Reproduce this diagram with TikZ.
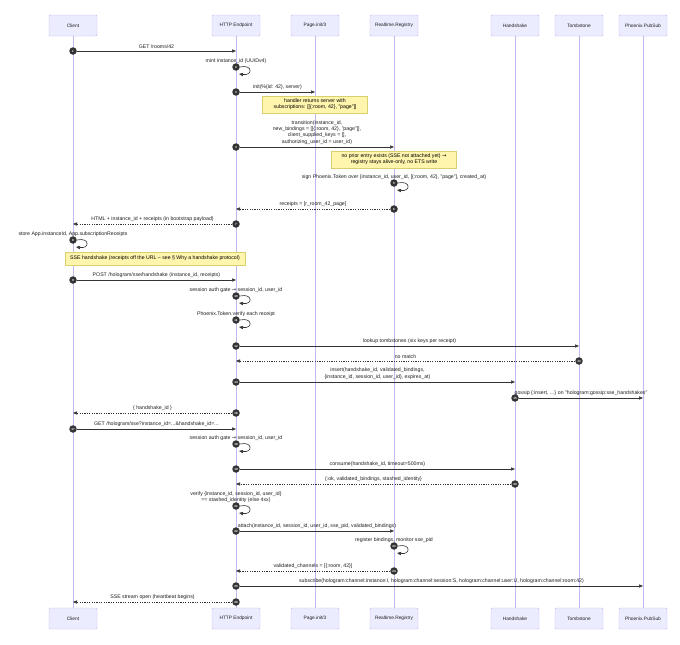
\documentclass[tikz,border=0pt]{standalone}
\usepackage{fontspec}
\setmainfont{Liberation Sans}
\newfontfamily\symfont{DejaVu Sans}
\usetikzlibrary{arrows.meta}
\definecolor{actfill}{HTML}{ECECFF}
\definecolor{actline}{HTML}{C4B6EE}
\definecolor{notefill}{HTML}{FFF5AD}
\definecolor{noteline}{HTML}{D8CF6E}
\definecolor{ink}{HTML}{333333}
\definecolor{txt}{HTML}{1E1E1E}
\newcommand\rarr{{\symfont\char"2192}}
\tikzset{
  actor/.style={draw=actline, fill=actfill, rounded corners=1pt, minimum width=48pt,
    minimum height=21pt, text=txt, font=\fontsize{4.8}{5.8}\selectfont},
  life/.style={actline, line width=0.9pt},
  msg/.style={ink, line width=0.6pt, -{Triangle[length=4pt,width=3.2pt]}},
  reply/.style={msg, dash pattern=on 1.2pt off 1.2pt},
  num/.style={circle, fill=ink, inner sep=0pt, minimum size=7.5pt, text=white,
    font=\fontsize{3}{3}\selectfont\bfseries},
  lbl/.style={text=txt, align=center, inner sep=1pt, font=\fontsize{5.2}{6.2}\selectfont},
  note/.style={lbl, text=black, draw=noteline, fill=notefill, line width=0.5pt}
}
\begin{document}
\begin{tikzpicture}[x=1pt,y=-1pt]
    \def\xC{73}     %Client
    \def\xH{236}    %HTTP Endpoint
    \def\xP{315}    %Page.init/3
    \def\xR{394}    %Realtime.Registry
    \def\xS{515}    %Handshake
    \def\xT{579}    %Tombstone
    \def\xB{643}    %Phoenix.PubSub
    \useasboundingbox (0,0) rectangle (680,645);
    % actors and lifelines
    \foreach \n/\x/\t in {C/\xC/Client, H/\xH/HTTP Endpoint, P/\xP/{Page.init/3},
        R/\xR/Realtime.Registry, S/\xS/Handshake, T/\xT/Tombstone, B/\xB/Phoenix.PubSub} {
        \node[actor] (top\n) at (\x,25.5) {\t};
        \node[actor] (bot\n) at (\x,618.5) {\t};
        \draw[life] (top\n) -- (bot\n);
    }
    % 1
    \node[num] (m1) at (\xC,51) {1};
    \coordinate (e1) at (\xH,51);
    \draw[msg] (m1) -- (e1) node[lbl,midway,above=1.5pt] {GET /rooms/42};
    % 2
    \node[num] (m2) at (\xH,67) {2};
    \coordinate (e2) at (\xH+3,74);
    \draw[msg] (m2.east) .. controls (\xH+17,64) and (\xH+17,76) .. (e2);
    \node[lbl] (l2) at (\xH,61) {mint instance\_id (UUIDv4)};
    % 3
    \node[num] (m3) at (\xH,92) {3};
    \coordinate (e3) at (\xP,92);
    \draw[msg] (m3) -- (e3) node[lbl,midway,above=1.5pt] {init(\%\{id: 42\}, server)};
    \node[note, minimum width=105pt, minimum height=17pt] (n1) at (\xP,104.5)
        {handler returns server with\\subscriptions: [[\{:room, 42\}, "page"]]};
    % 4
    \node[num] (m4) at (\xH,147) {4};
    \coordinate (e4) at (\xR,147);
    \draw[msg] (m4) -- (e4) node[lbl,midway,above=1.5pt] {transition(instance\_id,\\new\_bindings = [[\{:room, 42\}, "page"]],\\client\_supplied\_keys = [],\\authorizing\_user\_id = user\_id)};
    \node[note, minimum width=125pt, minimum height=17pt] (n2) at (\xR,159.5)
        {no prior entry exists (SSE not attached yet) \rarr\\registry stays alive-only, no ETS write};
    % 5
    \node[num] (m5) at (\xR,183) {5};
    \coordinate (e5) at (\xR+3,190);
    \draw[msg] (m5.east) .. controls (\xR+17,180) and (\xR+17,192) .. (e5);
    \node[lbl] (l5) at (\xR,177) {sign Phoenix.Token over \{instance\_id, user\_id, [\{:room, 42\}, "page"], created\_at\}};
    % 6
    \node[num] (m6) at (\xR,209) {6};
    \coordinate (e6) at (\xH,209);
    \draw[reply] (m6) -- (e6) node[lbl,midway,above=1.5pt] {receipts = [r\_room\_42\_page]};
    % 7
    \node[num] (m7) at (\xH,224) {7};
    \coordinate (e7) at (\xC,224);
    \draw[reply] (m7) -- (e7) node[lbl,midway,above=1.5pt] {HTML + instance\_id + receipts (in bootstrap payload)};
    % 8
    \node[num] (m8) at (\xC,240) {8};
    \coordinate (e8) at (\xC+3,247);
    \draw[msg] (m8.east) .. controls (\xC+17,237) and (\xC+17,249) .. (e8);
    \node[lbl] (l8) at (\xC,234) {store App.instanceId, App.subscriptionReceipts};
    \node[note, minimum width=180pt, minimum height=13pt] (n3) at (155,258.5)
        {SSE handshake (receipts off the URL – see § Why a handshake protocol)};
    % 9
    \node[num] (m9) at (\xC,280) {9};
    \coordinate (e9) at (\xH,280);
    \draw[msg] (m9) -- (e9) node[lbl,midway,above=1.5pt] {POST /hologram/sse/handshake (instance\_id, receipts)};
    % 10
    \node[num] (m10) at (\xH,296) {10};
    \coordinate (e10) at (\xH+3,303);
    \draw[msg] (m10.east) .. controls (\xH+17,293) and (\xH+17,305) .. (e10);
    \node[lbl] (l10) at (\xH,290) {session auth gate \rarr\ session\_id, user\_id};
    % 11
    \node[num] (m11) at (\xH,320) {11};
    \coordinate (e11) at (\xH+3,327);
    \draw[msg] (m11.east) .. controls (\xH+17,317) and (\xH+17,329) .. (e11);
    \node[lbl] (l11) at (\xH,314) {Phoenix.Token.verify each receipt};
    % 12
    \node[num] (m12) at (\xH,346) {12};
    \coordinate (e12) at (\xT,346);
    \draw[msg] (m12) -- (e12) node[lbl,midway,above=1.5pt] {lookup tombstones (six keys per receipt)};
    % 13
    \node[num] (m13) at (\xT,361) {13};
    \coordinate (e13) at (\xH,361);
    \draw[reply] (m13) -- (e13) node[lbl,midway,above=1.5pt] {no match};
    % 14
    \node[num] (m14) at (\xH,382) {14};
    \coordinate (e14) at (\xS,382);
    \draw[msg] (m14) -- (e14) node[lbl,midway,above=1.5pt] {insert(handshake\_id, validated\_bindings,\\\{instance\_id, session\_id, user\_id\}, expires\_at)};
    % 15
    \node[num] (m15) at (\xS,398) {15};
    \coordinate (e15) at (\xB,398);
    \draw[msg] (m15) -- (e15) node[lbl,midway,above=1.5pt] {gossip \{:insert, ...\} on "hologram:gossip:sse\_handshakes"};
    % 16
    \node[num] (m16) at (\xH,413) {16};
    \coordinate (e16) at (\xC,413);
    \draw[reply] (m16) -- (e16) node[lbl,midway,above=1.5pt] {\{ handshake\_id \}};
    % 17
    \node[num] (m17) at (\xC,429) {17};
    \coordinate (e17) at (\xH,429);
    \draw[msg] (m17) -- (e17) node[lbl,midway,above=1.5pt] {GET /hologram/sse?instance\_id=...\&handshake\_id=...};
    % 18
    \node[num] (m18) at (\xH,444) {18};
    \coordinate (e18) at (\xH+3,451);
    \draw[msg] (m18.east) .. controls (\xH+17,441) and (\xH+17,453) .. (e18);
    \node[lbl] (l18) at (\xH,438) {session auth gate \rarr\ session\_id, user\_id};
    % 19
    \node[num] (m19) at (\xH,469) {19};
    \coordinate (e19) at (\xS,469);
    \draw[msg] (m19) -- (e19) node[lbl,midway,above=1.5pt] {consume(handshake\_id, timeout=500ms)};
    % 20
    \node[num] (m20) at (\xS,484) {20};
    \coordinate (e20) at (\xH,484);
    \draw[reply] (m20) -- (e20) node[lbl,midway,above=1.5pt] {\{:ok, validated\_bindings, stashed\_identity\}};
    % 21
    \node[num] (m21) at (\xH,506) {21};
    \coordinate (e21) at (\xH+3,513);
    \draw[msg] (m21.east) .. controls (\xH+17,503) and (\xH+17,515) .. (e21);
    \node[lbl] (l21) at (\xH,497) {verify \{instance\_id, session\_id, user\_id\}\\== stashed\_identity (else 4xx)};
    % 22
    \node[num] (m22) at (\xH,531) {22};
    \coordinate (e22) at (\xR,531);
    \draw[msg] (m22) -- (e22) node[lbl,midway,above=1.5pt] {attach(instance\_id, session\_id, user\_id, sse\_pid, validated\_bindings)};
    % 23
    \node[num] (m23) at (\xR,546) {23};
    \coordinate (e23) at (\xR+3,553);
    \draw[msg] (m23.east) .. controls (\xR+17,543) and (\xR+17,555) .. (e23);
    \node[lbl] (l23) at (\xR,540) {register bindings, monitor sse\_pid};
    % 24
    \node[num] (m24) at (\xR,571) {24};
    \coordinate (e24) at (\xH,571);
    \draw[reply] (m24) -- (e24) node[lbl,midway,above=1.5pt] {validated\_channels = [\{:room, 42\}]};
    % 25
    \node[num] (m25) at (\xH,586) {25};
    \coordinate (e25) at (\xB,586);
    \draw[msg] (m25) -- (e25) node[lbl,midway,above=1.5pt] {subscribe(hologram:channel:instance:I, hologram:channel:session:S, hologram:channel:user:U, hologram:channel:room:42)};
    % 26
    \node[num] (m26) at (\xH,602) {26};
    \coordinate (e26) at (\xC,602);
    \draw[reply] (m26) -- (e26) node[lbl,midway,above=1.5pt] {SSE stream open (heartbeat begins)};
\end{tikzpicture}
\end{document}
